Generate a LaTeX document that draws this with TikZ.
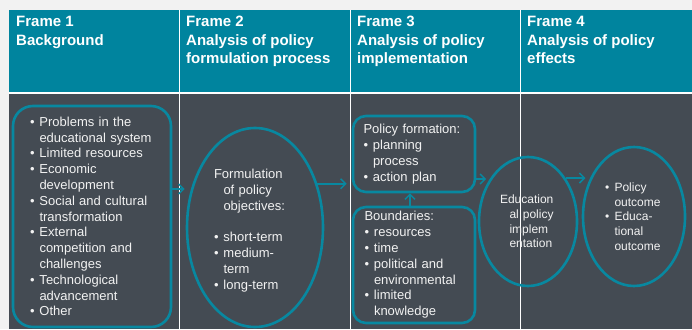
\documentclass[tikz,border=0pt]{standalone}
\usepackage{fontspec}
\setmainfont{Liberation Sans}
\usetikzlibrary{arrows.meta, shapes.geometric}

\definecolor{frameteal}{RGB}{0,132,158}
\definecolor{panelgray}{RGB}{68,75,83}
\definecolor{pagegray}{RGB}{242,242,242}
\definecolor{lineteal}{RGB}{8,136,160}
\definecolor{textwhite}{RGB}{242,242,242}

% bullet and hanging indent for the lists
\newlength{\indw}
\setlength{\indw}{9.5pt}
\newcommand{\blt}{\makebox[\indw][l]{\textbullet}}
\newcommand{\cont}{\hspace*{\indw}}

\begin{document}
\begin{tikzpicture}[x=1pt, y=-1pt,
    hdtext/.style={anchor=north west, align=left, inner sep=0pt, text=white,
                   font=\bfseries\fontsize{15}{18.5}\selectfont},
    roundbox/.style={draw=lineteal, line width=2.6pt, rounded corners=#1, inner sep=0pt,
                     text=textwhite, align=left, font=\fontsize{13}{15.8}\selectfont},
    ovalbox/.style={ellipse, draw=lineteal, line width=2.6pt, inner sep=0pt,
                    text=textwhite, align=left, font=\fontsize{13}{15.8}\selectfont},
    smalltext/.style={font=\fontsize{12}{14.7}\selectfont},
    flow/.style={draw=lineteal, line width=1.5pt, -{Straight Barb[length=5pt,width=10pt]}}]

    \useasboundingbox[fill=pagegray] (0,0) rectangle (692,329);
    \fill[white] (9,10) rectangle (692,329);

    % Frame columns: header cell and panel cell
    \foreach \l/\r in {9/179, 180.3/349.5, 350.8/520, 521.3/692} {
        \fill[frameteal] (\l,10) rectangle (\r,92);
        \fill[panelgray] (\l,94) rectangle (\r,329);
    }

    % Headers
    \node[hdtext] (h1) at (16,16.3) {Frame 1\\Background};
    \node[hdtext] (h2) at (186,16.3) {Frame 2\\Analysis of policy\\formulation process};
    \node[hdtext] (h3) at (357,16.3) {Frame 3\\Analysis of policy\\implementation};
    \node[hdtext] (h4) at (527,16.3) {Frame 4\\Analysis of policy\\effects};

    % Frame 1
    \node[roundbox=20pt, minimum width=158pt, minimum height=221pt, text width=124pt]
        (bg) at (92,216.5) {\blt Problems in the\\ \cont educational system\\
        \blt Limited resources\\ \blt Economic\\ \cont development\\
        \blt Social and cultural\\ \cont transformation\\ \blt External\\
        \cont competition and\\ \cont challenges\\ \blt Technological\\
        \cont advancement\\ \blt Other};

    % Frame 2
    \node[ovalbox, minimum width=136pt, minimum height=199pt, text width=82pt]
        (ob) at (255,227.5) {\rule{0pt}{15.4pt}Formulation\\ \cont of policy\\ \cont objectives:\\[15.8pt]
        \blt short-term\\ \blt medium-\\ \cont term\\ \blt long-term};

    % Frame 3
    \node[roundbox=13pt, minimum width=122pt, minimum height=76pt, text width=101pt]
        (pf) at (414,154) {Policy formation:\\ \blt planning\\ \cont process\\
        \blt action plan};
    \node[roundbox=13pt, minimum width=122pt, minimum height=116pt, text width=99pt]
        (bd) at (414,265) {Boundaries:\\ \blt resources\\ \blt time\\
        \blt political and\\ \cont environmental\\ \blt limited\\ \cont knowledge};
    \node[ovalbox, smalltext, minimum width=98pt, minimum height=129pt, text width=56pt]
        (ie) at (528,221.5) {Education\\ \cont al policy\\ \cont implem\\ \cont entation};

    % Frame 4
    \node[ovalbox, smalltext, minimum width=102pt, minimum height=139pt, text width=58pt]
        (eo) at (634,216.5) {\blt Policy\\ \cont outcome\\ \blt Educa-\\ \cont tional\\
        \cont outcome};

    % Arrows
    \draw[flow, shorten >=1pt] ([yshift=27.5pt]bg.east) -- ([yshift=27.5pt]bg.east -| ob.west);
    \draw[flow, shorten >=5pt] (ob.35.5) -- (ob.35.5 -| pf.west);
    \draw[flow] ([xshift=-4pt]bd.north) -- ([xshift=-4pt]pf.south);
    \draw[flow, shorten >=4pt] ([yshift=-25pt]pf.east) -- ([yshift=-25pt]pf.east -| ie.131);
    \draw[flow, shorten >=5pt] (ie.49) -- (ie.49 -| eo.138.9);
\end{tikzpicture}
\end{document}
